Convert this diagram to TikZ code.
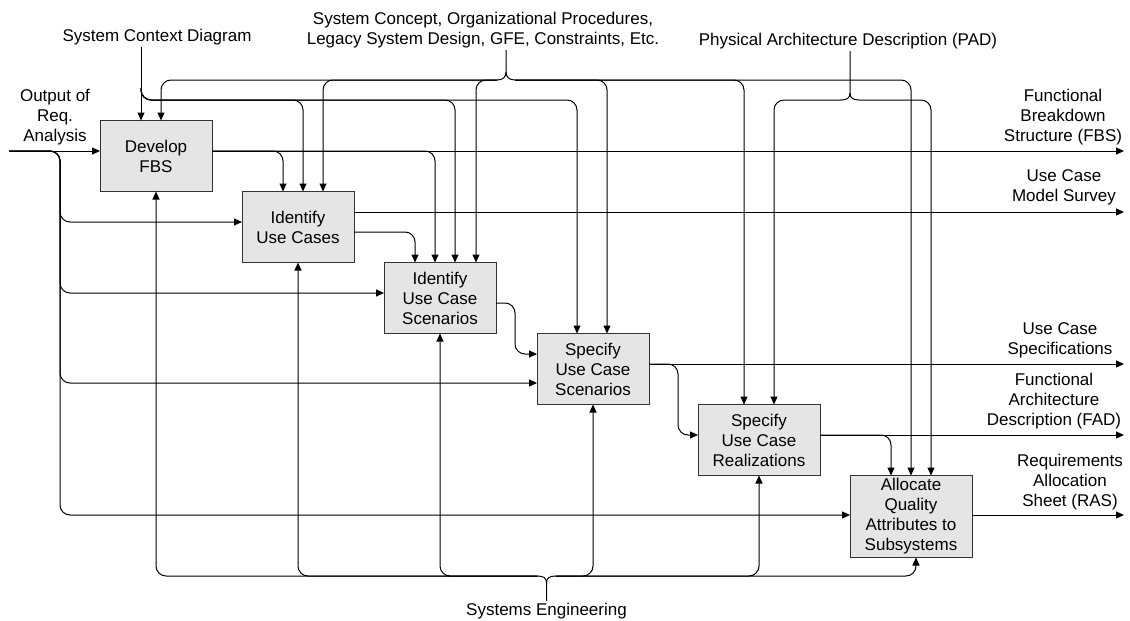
\documentclass[tikz,border=0pt]{standalone}
\usepackage{fontspec}
\setmainfont{Liberation Sans}
\usetikzlibrary{positioning, arrows.meta, calc}

\begin{document}
\begin{tikzpicture}[
    x=1pt, y=-1pt,
    proc/.style={rectangle, draw=black!80, fill=black!10, line width=1pt,
                 minimum width=112pt, minimum height=71pt, inner sep=0pt, outer sep=0pt,
                 align=center, font=\fontsize{17}{20}\selectfont},
    txt/.style={align=center, inner sep=2pt, font=\fontsize{17}{20}\selectfont},
    wire/.style={line width=1pt},
    arr/.style={-{Triangle[length=8pt, width=7pt]}, line width=1pt, rounded corners=10pt}
  ]
  \useasboundingbox (0,0) rectangle (1130,621);

  % Activities
  \node[proc] (fbs) at (156,156) {Develop\\FBS};
  \node[proc, below right=0pt and 30pt of fbs] (iuc) {Identify\\Use Cases};
  \node[proc, below right=0pt and 30pt of iuc] (iucs) {Identify\\Use Case\\Scenarios};
  \node[proc, below right=0pt and 41pt of iucs] (sucs) {Specify\\Use Case\\Scenarios};
  \node[proc, minimum width=122pt, below right=0pt and 49pt of sucs] (sucr) {Specify\\Use Case\\Realizations};
  \node[proc, minimum width=122pt, minimum height=82pt, below right=0pt and 30pt of sucr] (alloc) {Allocate\\Quality\\Attributes to\\Subsystems};

  % Labels
  \node[txt] (reqlbl) at (55,117) {Output of\\Req.\\Analysis};
  \node[txt] (scdlbl) at (157,37) {System Context Diagram};
  \node[txt] (sclbl) at (483,30) {System Concept, Organizational Procedures,\\Legacy System Design, GFE, Constraints, Etc.};
  \node[txt] (padlbl) at (848,41) {Physical Architecture Description (PAD)};
  \node[txt] (selbl) at (546.5,611) {Systems Engineering};
  \node[txt] (fbslbl) at (1063,117) {Functional\\Breakdown\\Structure (FBS)};
  \node[txt] (ucmlbl) at (1064,187) {Use Case\\Model Survey};
  \node[txt] (ucslbl) at (1060,340) {Use Case\\Specifications};
  \node[txt] (fadlbl) at (1054,401) {Functional\\Architecture\\Description (FAD)};
  \node[txt] (raslbl) at (1070,482) {Requirements\\Allocation\\Sheet (RAS)};

  % Bus points
  \coordinate (reqin) at (9,151);
  \coordinate (reqbus) at (60,151);
  \coordinate (rim) at (1124,0);
  \coordinate (scd) at (141,100);
  \coordinate (sc) at (506,80);
  \coordinate (scL) at ($(sc)+(-9,0)$);
  \coordinate (scR) at ($(sc)+(9,0)$);
  \coordinate (pad) at (850,100);
  \coordinate (padL) at ($(pad)+(-9,0)$);
  \coordinate (padR) at ($(pad)+(9,0)$);
  \coordinate (se) at (546.5,576);
  \coordinate (seL) at ($(se)+(-9,0)$);
  \coordinate (seR) at ($(se)+(9,0)$);

  % Output ports
  \coordinate (fbsO) at ([yshift=5pt]fbs.east);
  \coordinate (iucO) at ([yshift=15pt]iuc.east);
  \coordinate (iucF) at ([yshift=-5pt]iuc.east);
  \coordinate (iucsO) at ([yshift=-5pt]iucs.east);
  \coordinate (sucsO) at ([yshift=5pt]sucs.east);
  \coordinate (sucrO) at ([yshift=5pt]sucr.east);
  \coordinate (allocO) at ([yshift=1.5pt]alloc.east);

  % Inputs
  \draw[arr] (reqin) -- ([yshift=5pt]fbs.west);
  \draw[arr] (reqin) -- (reqbus) |- ([yshift=5pt]iuc.west);
  \draw[arr] (reqin) -- (reqbus) |- ([yshift=5pt]iucs.west);
  \draw[arr] (reqin) -- (reqbus) |- ([yshift=-14pt]sucs.west);
  \draw[arr] (reqin) -- (reqbus) |- ([yshift=1.5pt]alloc.west);

  % Outputs
  \draw[arr] (fbsO) -- (fbsO -| rim);
  \draw[arr] (fbsO) -| ([xshift=-15pt]iuc.north);
  \draw[arr] (fbsO) -| ([xshift=-5pt]iucs.north);
  \draw[arr] (iucO) -- (iucO -| rim);
  \draw[arr] (iucF) -| ([xshift=-25pt]iucs.north);
  \draw[arr] (iucsO) -| ([xshift=-22pt, yshift=15pt]sucs.west) -- ([yshift=15pt]sucs.west);
  \draw[arr] (sucsO) -- (sucsO -| rim);
  \draw[arr] (sucsO) -| ([xshift=-20pt, yshift=5pt]sucr.west) -- ([yshift=5pt]sucr.west);
  \draw[arr] (sucrO) -- (sucrO -| rim);
  \draw[arr] (sucrO) -| ([xshift=-20pt]alloc.north);
  \draw[arr] (allocO) -- (allocO -| rim);

  % Controls: context diagram
  \draw[arr] (scdlbl.south -| scd) -- (scd |- fbs.north);
  \draw[arr] ([yshift=12pt]scd) -- (scd) -| ([xshift=5pt]iuc.north);
  \draw[arr] ([yshift=12pt]scd) -- (scd) -| ([xshift=15pt]iucs.north);
  \draw[arr] ([yshift=12pt]scd) -- (scd) -| ([xshift=-16pt]sucs.north);

  % Controls: system concept
  \draw[wire] (sclbl.south -| sc) -- ($(sc)+(0,-8)$) .. controls ($(sc)+(0,-3)$) and ($(sc)+(-3,0)$) .. (scL);
  \draw[wire] ($(sc)+(0,-8)$) .. controls ($(sc)+(0,-3)$) and ($(sc)+(3,0)$) .. (scR);
  \draw[arr] (scL) -| ([xshift=5pt]fbs.north);
  \draw[arr] (scL) -| ([xshift=25pt]iuc.north);
  \draw[arr] (scL) -| ([xshift=36pt]iucs.north);
  \draw[arr] (scR) -| ([xshift=14pt]sucs.north);
  \draw[arr] (scR) -| ([xshift=-15pt]sucr.north);
  \draw[arr] (scR) -| (alloc.north);

  % Controls: PAD
  \draw[wire] (padlbl.south -| pad) -- ($(pad)+(0,-7)$) .. controls ($(pad)+(0,-2)$) and ($(pad)+(-3,0)$) .. (padL);
  \draw[wire] ($(pad)+(0,-7)$) .. controls ($(pad)+(0,-2)$) and ($(pad)+(3,0)$) .. (padR);
  \draw[arr] (padL) -| ([xshift=15pt]sucr.north);
  \draw[arr] (padR) -| ([xshift=20pt]alloc.north);

  % Mechanism
  \draw[wire] (selbl.north -| se) -- ($(se)+(0,7)$) .. controls ($(se)+(0,2)$) and ($(se)+(-3,0)$) .. (seL);
  \draw[wire] ($(se)+(0,7)$) .. controls ($(se)+(0,2)$) and ($(se)+(3,0)$) .. (seR);
  \draw[arr] (seL) -| (fbs.south);
  \draw[arr] (seL) -| (iuc.south);
  \draw[arr] (seL) -| (iucs.south);
  \draw[arr] (seR) -| (sucs.south);
  \draw[arr] (seR) -| (sucr.south);
  \draw[arr] (seR) -| ([xshift=5pt]alloc.south);
\end{tikzpicture}
\end{document}
